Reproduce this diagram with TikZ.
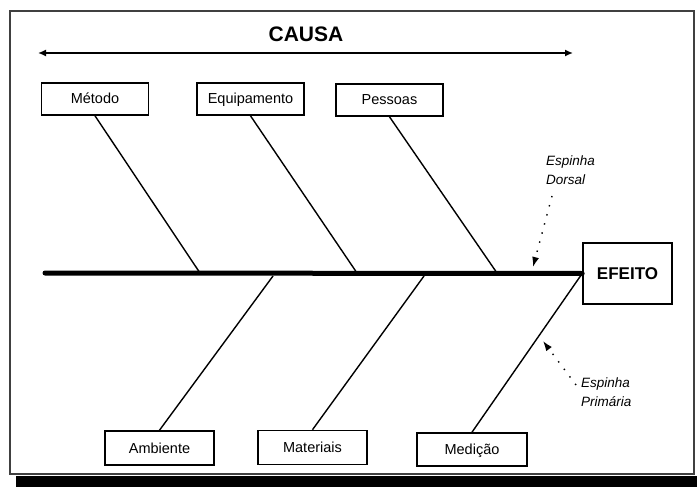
\documentclass[tikz,border=0pt]{standalone}
\usepackage{fontspec}
\setmainfont{Liberation Sans}
\usetikzlibrary{arrows.meta,positioning}
\tikzset{
	box/.style={draw,rectangle,line width=1.6pt,minimum width=107pt,minimum height=32pt,inner sep=0pt,text height=10.5pt,text depth=0.5pt,font=\fontsize{14.5}{16}\selectfont},
	bone/.style={line width=1.4pt},
	spine/.style={line width=5pt,line cap=round},
	hint/.style={line width=1.4pt,dash pattern=on 1.4pt off 8pt,-{Latex[length=10pt,width=7pt]}},
	note/.style={font=\itshape\fontsize{13.5}{19}\selectfont,align=left,inner sep=0pt}
}

\begin{document}
\begin{tikzpicture}[x=1pt,y=-1pt]
	\useasboundingbox (0,0) rectangle (697,487);
	\fill (16,476) rectangle (697,487);
	\draw[line width=1.3pt,black!75] (10,11) rectangle (694,474);

	\node[font=\bfseries\fontsize{21}{24}\selectfont] (causa) at (306,34) {CAUSA};
	\node[coordinate] (cl) at (38,53) {};
	\node[coordinate] (cr) at (573,53) {};
	\draw[line width=1.5pt,{Latex[length=8pt,width=7pt]}-{Latex[length=8pt,width=7pt]}] (cl) -- (cr);

	\node[box] (metodo) at (95,99) {Método};
	\node[box] (equip) at (250.5,99) {Equipamento};
	\node[box] (pessoas) at (389.5,100) {Pessoas};
	\node[box,minimum width=109pt,minimum height=34pt] (ambiente) at (159.5,448) {Ambiente};
	\node[box,minimum width=109pt,minimum height=34pt] (materiais) at (312.5,447.5) {Materiais};
	\node[box,minimum width=110pt,minimum height=33pt] (medicao) at (472,449.5) {Medição};
	\node[box,minimum width=89pt,minimum height=61pt,text height=12pt,font=\bfseries\fontsize{17}{20}\selectfont] (efeito) at (627.5,273.5) {EFEITO};

	\node[coordinate] (tail) at (45,273) {};
	\node[coordinate] (s1) at (200,273) {};
	\node[coordinate] (s2) at (357,273) {};
	\node[coordinate] (s3) at (497,273) {};
	\node[coordinate] (s4) at (273,276) {};
	\node[coordinate] (s5) at (424,276) {};

	\draw[bone] (metodo.south) -- (s1);
	\draw[bone] (equip.south) -- (s2);
	\draw[bone] (pessoas.south) -- (s3);
	\draw[bone] (ambiente.north) -- (s4);
	\draw[bone] (materiais.north) -- (s5);
	\draw[bone] (medicao.north) -- (efeito.west);
	\draw[spine] (tail) -- (efeito.west);

	\node[note,anchor=west] (dorsal) at (546,170) {Espinha\\Dorsal};
	\node[note,anchor=west] (primaria) at (581,392) {Espinha\\Primária};
	\node[coordinate] (d0) at (552,196) {};
	\node[coordinate] (d1) at (533,267) {};
	\node[coordinate] (p0) at (576,385) {};
	\node[coordinate] (p1) at (543,341) {};
	\draw[hint] (d0) -- (d1);
	\draw[hint] (p0) -- (p1);
\end{tikzpicture}
\end{document}
